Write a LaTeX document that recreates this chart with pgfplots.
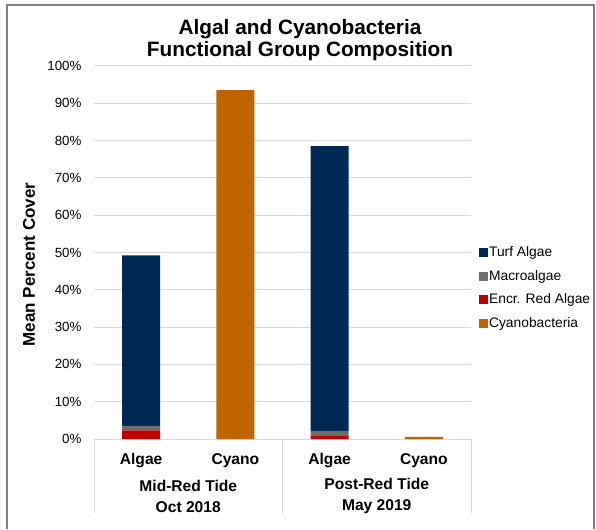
\documentclass[border=0pt]{standalone}
\usepackage{fontspec}
\setmainfont{Liberation Sans}
\usepackage{pgfplots}
\pgfplotsset{compat=1.18}

\definecolor{turf}{HTML}{002855}
\definecolor{macro}{HTML}{6E6E6E}
\definecolor{encr}{HTML}{C00000}
\definecolor{cyano}{HTML}{C06400}
\definecolor{gridgray}{HTML}{D9D9D9}
\definecolor{framegray}{HTML}{808080}

\begin{document}
\begin{tikzpicture}[x=1pt,y=1pt]
  % page and outer frame
  \fill[white] (0,0) rectangle (596,524);
  \draw[framegray, line width=1.6pt] (7,-5) -- (7,519) -- (594,519) -- (594,-5);
  \clip (0,0) rectangle (596,524);

  % title
  \node[align=center, font=\fontsize{20.8}{22.5}\selectfont\bfseries] at (300,484) {Algal and Cyanobacteria\\Functional Group Composition};

  % y axis label
  \node[rotate=90, font=\fontsize{17}{20}\selectfont\bfseries] at (29,259.5) {Mean Percent Cover};

  \begin{axis}[
    at={(94pt,85pt)}, anchor=south west,
    scale only axis, width=377pt, height=373pt,
    ybar stacked, bar width=38pt,
    xmin=-0.5, xmax=3.5, ymin=0, ymax=100,
    xtick={0,1,2,3},
    xticklabels={Algae,Cyano,Algae,Cyano},
    ytick={0,10,...,100},
    yticklabel={\pgfmathprintnumber{\tick}\%},
    /pgf/number format/assume math mode=true,
    major tick length=0pt,
    axis line style={draw=none},
    ymajorgrids, grid style={gridgray, line width=1pt},
    xticklabel style={font=\fontsize{15.6}{18}\selectfont\bfseries, yshift=-11pt},
    yticklabel style={font=\fontsize{13.3}{16}\selectfont, xshift=-9pt},
    clip=false,
    legend style={at={(1.012,0.406)}, anchor=west, draw=none, fill=none,
      font=\fontsize{13.8}{16}\selectfont, row sep=8pt,
      /tikz/every even column/.append style={column sep=2pt}},
    legend cell align=left,
    legend image code/.code={\fill[#1] (0pt,-4pt) rectangle (8pt,4pt);},
  ]
    \addlegendimage{turf}
    \addlegendentry{Turf Algae}
    \addlegendimage{macro}
    \addlegendentry{Macroalgae}
    \addlegendimage{encr}
    \addlegendentry{Encr. Red Algae}
    \addlegendimage{cyano}
    \addlegendentry{Cyanobacteria}

    % stacked from the bottom: encrusting red, macroalgae, turf, cyanobacteria
    \addplot[fill=encr, draw=none, forget plot] coordinates {(0,2.3) (1,0) (2,1.0) (3,0)};
    \addplot[fill=macro, draw=none, forget plot] coordinates {(0,1.2) (1,0) (2,1.2) (3,0)};
    \addplot[fill=turf, draw=none, forget plot] coordinates {(0,45.7) (1,0) (2,76.3) (3,0)};
    \addplot[fill=cyano, draw=none, forget plot] coordinates {(0,0) (1,93.5) (2,0) (3,0.6)};

    % group separators and group labels
    \draw[gridgray, line width=1pt] (axis cs:-0.5,0) -- ++(0pt,-74pt);
    \draw[gridgray, line width=1pt] (axis cs:1.5,0) -- ++(0pt,-74pt);
    \draw[gridgray, line width=1pt] (axis cs:3.5,0) -- ++(0pt,-74pt);
    \node[align=center, font=\fontsize{15.6}{21}\selectfont\bfseries] at ([yshift=-57pt]axis cs:0.5,0) {Mid-Red Tide\\Oct 2018};
    \node[align=center, font=\fontsize{15.6}{21}\selectfont\bfseries] at ([yshift=-57pt]axis cs:2.5,0) {Post-Red Tide\\May 2019};
  \end{axis}
\end{tikzpicture}
\end{document}
